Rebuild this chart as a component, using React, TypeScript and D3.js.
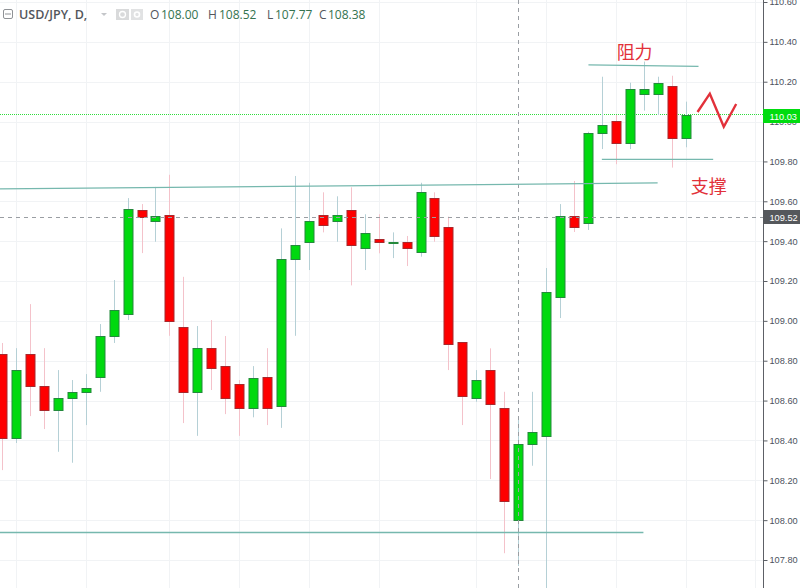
import { useEffect, useRef } from "react"
import * as d3 from "d3"

const width = 800
const height = 588
const axisX = 763

// Daily USD/JPY candles, oldest first
const opens = [108.833, 108.413, 108.833, 108.673, 108.552, 108.612, 108.643, 108.719, 108.924, 109.033, 109.555, 109.503, 109.533, 108.97, 108.643, 108.862, 108.772, 108.681, 108.561, 108.719, 108.574, 109.312, 109.394, 109.533, 109.503, 109.555, 109.364, 109.412, 109.393, 109.394, 109.344, 109.615, 109.472, 108.892, 108.611, 108.751, 108.561, 108.0, 108.383, 108.422, 109.119, 109.525, 109.492, 109.943, 110.004, 109.891, 110.14, 110.14, 110.179, 109.916]
const highs = [108.889, 108.863, 109.084, 108.863, 108.753, 108.703, 108.733, 108.984, 109.205, 109.616, 109.586, 109.672, 109.733, 109.221, 108.974, 109.004, 108.924, 108.703, 108.773, 108.863, 109.464, 109.727, 109.693, 109.645, 109.625, 109.67, 109.535, 109.535, 109.444, 109.426, 109.693, 109.645, 109.523, 108.892, 108.753, 108.862, 108.644, 108.52, 108.644, 109.265, 109.586, 109.702, 109.949, 110.225, 110.033, 110.195, 110.301, 110.225, 110.23, 110.1]
const lows = [108.251, 108.387, 108.522, 108.457, 108.343, 108.288, 108.477, 108.644, 108.889, 109.004, 109.34, 109.397, 108.925, 108.487, 108.423, 108.653, 108.532, 108.423, 108.516, 108.477, 108.463, 108.925, 109.255, 109.444, 109.397, 109.178, 109.255, 109.339, 109.315, 109.275, 109.322, 109.397, 108.753, 108.477, 108.594, 108.206, 107.834, 107.77, 108.273, 107.598, 109.014, 109.446, 109.456, 109.862, 109.786, 109.862, 110.055, 110.033, 109.769, 109.871]
const closes = [108.413, 108.751, 108.673, 108.552, 108.611, 108.643, 108.664, 108.924, 109.053, 109.563, 109.523, 109.525, 109.0, 108.643, 108.862, 108.763, 108.611, 108.561, 108.711, 108.561, 109.312, 109.381, 109.503, 109.481, 109.533, 109.381, 109.442, 109.394, 109.394, 109.364, 109.645, 109.424, 108.884, 108.621, 108.703, 108.581, 108.094, 108.38, 108.443, 109.145, 109.525, 109.472, 109.944, 109.983, 109.891, 110.164, 110.164, 110.195, 109.916, 110.033]

const priceTicks = [110.6, 110.4, 110.2, 110.0, 109.8, 109.6, 109.4, 109.2, 109.0, 108.8, 108.6, 108.4, 108.2, 108.0, 107.8]
const gridBars = [1, 6, 12, 17, 22, 27, 34, 39, 44, 49, 54]

const lastPrice = 110.03
const crossPrice = 109.52
const crossBar = 37

// Hand drawn annotations, as [bar, price]
const resistanceLine: [number, number][] = [[42.04, 110.284], [49.93, 110.277]]
const supportLine: [number, number][] = [[43, 109.81], [50.98, 109.81]]
const upperTrend: [number, number][] = [[-0.15, 109.662], [47, 109.692]]
const lowerTrend: [number, number][] = [[-0.15, 107.938], [45.98, 107.938]]
const zigzag: [number, number][] = [[49.86, 110.048], [50.74, 110.14], [51.74, 109.974], [52.63, 110.088]]
const labels: { text: string; bar: number; price: number }[] = [
  { text: "阻力", bar: 45.35, price: 110.315 },
  { text: "支撑", bar: 50.67, price: 109.64 },
]

const legendValues = [
  { key: "O", value: "108.00", keyX: 150, valueX: 161 },
  { key: "H", value: "108.52", keyX: 208, valueX: 219 },
  { key: "L", value: "107.77", keyX: 267, valueX: 275 },
  { key: "C", value: "108.38", keyX: 319, valueX: 328 },
]

const upColor = "#00d90f"
const upBorder = "#24893c"
const upWick = "#b5d0d6"
const downColor = "#fe0000"
const downBorder = "#a8282c"
const downWick = "#f4c2ca"
const gridColor = "#f1f3f5"
const lineColor = "#76b8ae"
const textColor = "#4c525e"

export default function App() {
  const svgRef = useRef<SVGSVGElement>(null)

  useEffect(() => {
    if (!svgRef.current) return

    const svg = d3.select(svgRef.current)
    svg.selectAll("*").remove()

    const x = d3.scaleLinear().domain([0, 49]).range([2, 685.55])
    const y = d3.scaleLinear().domain([107.8, 110.6]).range([560, 2])

    // Grid
    svg.append("g")
      .selectAll("line")
      .data(priceTicks)
      .enter()
      .append("line")
      .attr("x1", 0)
      .attr("x2", axisX)
      .attr("y1", (d) => Math.round(y(d)) + 0.5)
      .attr("y2", (d) => Math.round(y(d)) + 0.5)
      .attr("stroke", gridColor)

    svg.append("g")
      .selectAll("line")
      .data(gridBars)
      .enter()
      .append("line")
      .attr("x1", (d) => Math.round(x(d)) + 0.5)
      .attr("x2", (d) => Math.round(x(d)) + 0.5)
      .attr("y1", 0)
      .attr("y2", height)
      .attr("stroke", gridColor)

    // Last price line
    svg.append("line")
      .attr("x1", 0)
      .attr("x2", axisX)
      .attr("y1", Math.floor(y(lastPrice)) - 0.5)
      .attr("y2", Math.floor(y(lastPrice)) - 0.5)
      .attr("stroke", "#2fdc3c")
      .attr("stroke-dasharray", "1,1")

    // Candles
    const candles = svg
      .append("g")
      .selectAll("g")
      .data(opens.map((open, i) => ({ i, open, high: highs[i], low: lows[i], close: closes[i] })))
      .enter()
      .append("g")

    candles
      .append("line")
      .attr("x1", (d) => Math.round(x(d.i)) + 0.5)
      .attr("x2", (d) => Math.round(x(d.i)) + 0.5)
      .attr("y1", (d) => y(d.high))
      .attr("y2", (d) => y(d.low))
      .attr("stroke", (d) => (d.close >= d.open ? upWick : downWick))

    candles
      .append("rect")
      .attr("x", (d) => Math.round(x(d.i)) - 4)
      .attr("width", 9)
      .attr("y", (d) => Math.round(y(Math.max(d.open, d.close))) + 0.5)
      .attr("height", (d) => Math.max(0, Math.round(y(Math.min(d.open, d.close))) - Math.round(y(Math.max(d.open, d.close)))))
      .attr("fill", (d) => (d.close >= d.open ? upColor : downColor))
      .attr("stroke", (d) => (d.close >= d.open ? upBorder : downBorder))

    // Crosshair over the candles
    svg.append("line")
      .attr("x1", 0)
      .attr("x2", axisX)
      .attr("y1", Math.round(y(crossPrice)) + 0.5)
      .attr("y2", Math.round(y(crossPrice)) + 0.5)
      .attr("stroke", "#9a9ea3")
      .attr("stroke-dasharray", "4,4")

    svg.append("line")
      .attr("x1", Math.round(x(crossBar)) + 0.5)
      .attr("x2", Math.round(x(crossBar)) + 0.5)
      .attr("y1", 0)
      .attr("y2", height)
      .attr("stroke", "#9a9ea3")
      .attr("stroke-dasharray", "4,4")

    // Annotations
    const line = d3
      .line<[number, number]>()
      .x((d) => x(d[0]))
      .y((d) => y(d[1]))

    for (const pts of [resistanceLine, supportLine, upperTrend, lowerTrend]) {
      svg.append("path").attr("d", line(pts)).attr("fill", "none").attr("stroke", lineColor).attr("stroke-width", 1.3)
    }

    svg.append("path")
      .attr("d", line(zigzag))
      .attr("fill", "none")
      .attr("stroke", "#e2313a")
      .attr("stroke-width", 2.4)

    svg.append("g")
      .selectAll("text")
      .data(labels)
      .enter()
      .append("text")
      .attr("x", (d) => x(d.bar))
      .attr("y", (d) => y(d.price))
      .attr("text-anchor", "middle")
      .style("font-family", '"Noto Sans CJK SC"')
      .style("font-size", "18px")
      .style("font-weight", 400)
      .style("fill", "#e2313a")
      .text((d) => d.text)

    // Price axis
    svg.append("rect").attr("x", axisX).attr("y", 0).attr("width", width - axisX).attr("height", height).attr("fill", "#fff")

    const axis = svg
      .append("g")
      .attr("transform", `translate(${axisX + 0.5},0)`)
      .call(d3.axisRight(y).tickValues(priceTicks).tickSize(4).tickPadding(2).tickFormat(d3.format(".2f") as any))

    axis.select(".domain").attr("stroke", "#5d6066").attr("d", `M0,0V${height}`)
    axis.selectAll(".tick line").attr("stroke", "#5d6066")
    axis.selectAll(".tick text")
      .style("font-family", '"Liberation Sans"')
      .style("font-size", "9.2px")
      .style("fill", textColor)

    // Price tags
    const tags = [
      { price: lastPrice, fill: "#00dc0f" },
      { price: crossPrice, fill: "#55585c" },
    ]
    const tag = svg.append("g").selectAll("g").data(tags).enter().append("g")
    tag.append("rect")
      .attr("x", axisX)
      .attr("y", (d) => Math.round(y(d.price)) - 7)
      .attr("width", width - axisX)
      .attr("height", 14)
      .attr("fill", (d) => d.fill)
    tag.append("text")
      .attr("x", axisX + 6.5)
      .attr("y", (d) => Math.round(y(d.price)) + 3.5)
      .style("font-family", '"Liberation Sans"')
      .style("font-size", "9.2px")
      .style("fill", "#fff")
      .text((d) => d.price.toFixed(2))

    // Legend
    const legend = svg.append("g").style("font-family", '"Open Sans"').style("font-size", "12px")

    legend.append("rect")
      .attr("x", 3.5)
      .attr("y", 9.5)
      .attr("width", 9)
      .attr("height", 9)
      .attr("rx", 1.5)
      .attr("fill", "#fff")
      .attr("stroke", "#8f9296")
    legend.append("line").attr("x1", 5).attr("x2", 11).attr("y1", 14).attr("y2", 14).attr("stroke", "#8f9296")

    legend.append("text")
      .attr("x", 19)
      .attr("y", 19)
      .style("font-size", "12.5px")
      .style("font-weight", 600)
      .style("fill", "#53565c")
      .text("USD/JPY, D,")

    legend.append("path").attr("d", "M101,13h6l-3,3z").attr("fill", "#c4c6c9")
    legend.append("rect").attr("x", 116).attr("y", 9).attr("width", 13).attr("height", 11).attr("fill", "#d9dadb")
    legend.append("circle").attr("cx", 122.5).attr("cy", 14.5).attr("r", 3).attr("fill", "none").attr("stroke", "#fff").attr("stroke-width", 1.3)
    legend.append("rect").attr("x", 131).attr("y", 9).attr("width", 12).attr("height", 11).attr("fill", "#e1e2e3")
    legend.append("circle").attr("cx", 137).attr("cy", 14.5).attr("r", 2.5).attr("fill", "none").attr("stroke", "#fff").attr("stroke-width", 1.6)

    const items = legend.selectAll("g.item").data(legendValues).enter().append("g").attr("class", "item")
    items.append("text").attr("x", (d) => d.keyX).attr("y", 19).style("fill", "#53565c").text((d) => d.key)
    items.append("text").attr("x", (d) => d.valueX).attr("y", 19).style("fill", "#34734f").text((d) => d.value)
  }, [])

  return <svg ref={svgRef} width={width} height={height} style={{ position: "absolute", left: 0, top: 0, background: "#fff" }} />
}
